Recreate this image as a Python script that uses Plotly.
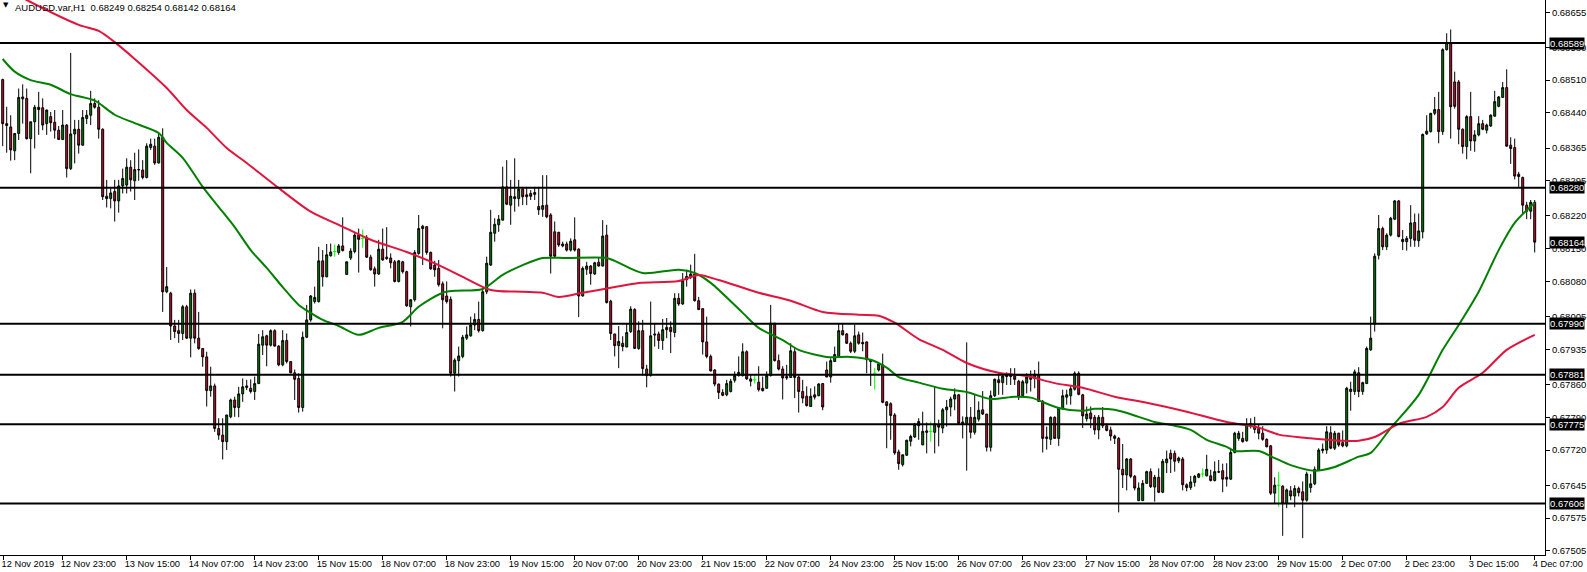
import plotly.graph_objects as go

# ---------------- data (AUDUSD.var, H1) ----------------
opens = [
0.68511, 0.68417, 0.68410, 0.68359, 0.68396, 0.68474, 0.68471, 0.68385, 0.68421, 0.68452,
0.68451, 0.68417, 0.68432, 0.68420, 0.68403, 0.68383, 0.68414, 0.68321, 0.68395, 0.68405,
0.68371, 0.68428, 0.68435, 0.68460, 0.68452, 0.68405, 0.68262, 0.68257, 0.68272, 0.68252,
0.68284, 0.68286, 0.68324, 0.68295, 0.68318, 0.68318, 0.68302, 0.68366, 0.68369, 0.68333,
0.68388, 0.68058, 0.68055, 0.67985, 0.67975, 0.67969, 0.68026, 0.67959, 0.68055, 0.67959,
0.67937, 0.67919, 0.67847, 0.67857, 0.67766, 0.67752, 0.67738, 0.67791, 0.67827, 0.67811,
0.67840, 0.67857, 0.67852, 0.67845, 0.67862, 0.67944, 0.67964, 0.67944, 0.67975, 0.67942,
0.67902, 0.67954, 0.67909, 0.67885, 0.67873, 0.67811, 0.67961, 0.67998, 0.68037, 0.68037,
0.68124, 0.68090, 0.68135, 0.68144, 0.68142, 0.68156, 0.68095, 0.68130, 0.68144, 0.68179,
0.68172, 0.68174, 0.68132, 0.68107, 0.68096, 0.68149, 0.68132, 0.68130, 0.68122, 0.68080,
0.68122, 0.68101, 0.68026, 0.68041, 0.68140, 0.68198, 0.68197, 0.68142, 0.68115, 0.68108,
0.68075, 0.68049, 0.68042, 0.67884, 0.67911, 0.67920, 0.67959, 0.67964, 0.67987, 0.67999,
0.67975, 0.68058, 0.68115, 0.68183, 0.68201, 0.68211, 0.68282, 0.68243, 0.68261, 0.68257,
0.68277, 0.68265, 0.68268, 0.68266, 0.68240, 0.68234, 0.68243, 0.68222, 0.68186, 0.68185,
0.68160, 0.68160, 0.68147, 0.68169, 0.68149, 0.68049, 0.68106, 0.68113, 0.68096, 0.68121,
0.68113, 0.68179, 0.68038, 0.67968, 0.67943, 0.67948, 0.67940, 0.67973, 0.68020, 0.67937,
0.67975, 0.67893, 0.67879, 0.67968, 0.67968, 0.67954, 0.67977, 0.67982, 0.67971, 0.68044,
0.68032, 0.68084, 0.68089, 0.68096, 0.68039, 0.68022, 0.67951, 0.67920, 0.67891, 0.67861,
0.67843, 0.67838, 0.67845, 0.67869, 0.67879, 0.67879, 0.67930, 0.67872, 0.67870, 0.67865,
0.67852, 0.67852, 0.67879, 0.67991, 0.67911, 0.67893, 0.67877, 0.67875, 0.67930, 0.67876,
0.67845, 0.67835, 0.67813, 0.67838, 0.67836, 0.67862, 0.67891, 0.67876, 0.67909, 0.67920,
0.67975, 0.67968, 0.67948, 0.67931, 0.67966, 0.67950, 0.67951, 0.67913, 0.67884, 0.67891,
0.67902, 0.67823, 0.67819, 0.67795, 0.67716, 0.67689, 0.67709, 0.67739, 0.67748, 0.67772,
0.67731, 0.67761, 0.67760, 0.67758, 0.67774, 0.67767, 0.67806, 0.67812, 0.67829, 0.67838,
0.67780, 0.67777, 0.67790, 0.67758, 0.67786, 0.67806, 0.67797, 0.67726, 0.67836, 0.67870,
0.67864, 0.67881, 0.67881, 0.67878, 0.67867, 0.67836, 0.67863, 0.67878, 0.67873, 0.67881,
0.67824, 0.67748, 0.67743, 0.67790, 0.67745, 0.67808, 0.67833, 0.67836, 0.67850, 0.67884,
0.67838, 0.67787, 0.67799, 0.67790, 0.67763, 0.67790, 0.67772, 0.67763, 0.67750, 0.67745,
0.67679, 0.67667, 0.67701, 0.67664, 0.67612, 0.67612, 0.67649, 0.67674, 0.67641, 0.67662,
0.67630, 0.67693, 0.67713, 0.67713, 0.67697, 0.67701, 0.67646, 0.67640, 0.67651, 0.67662,
0.67669, 0.67665, 0.67665, 0.67655, 0.67674, 0.67676, 0.67662, 0.67658, 0.67715, 0.67745,
0.67745, 0.67740, 0.67771, 0.67764, 0.67766, 0.67756, 0.67743, 0.67729, 0.67628, 0.67645,
0.67643, 0.67606, 0.67633, 0.67622, 0.67638, 0.67631, 0.67613, 0.67640, 0.67648, 0.67677,
0.67719, 0.67720, 0.67757, 0.67724, 0.67756, 0.67736, 0.67729, 0.67845, 0.67845, 0.67885,
0.67845, 0.67862, 0.67934, 0.67989, 0.68136, 0.68193, 0.68154, 0.68179, 0.68213, 0.68252,
0.68170, 0.68165, 0.68172, 0.68206, 0.68167, 0.68186, 0.68395, 0.68400, 0.68439, 0.68447,
0.68400, 0.68575, 0.68590, 0.68506, 0.68506, 0.68405, 0.68368, 0.68432, 0.68380, 0.68393,
0.68417, 0.68403, 0.68412, 0.68433, 0.68454, 0.68473, 0.68494, 0.68371, 0.68366, 0.68309,
0.68302, 0.68243, 0.68230, 0.68249,
]

highs = [
0.68513, 0.68453, 0.68435, 0.68397, 0.68492, 0.68501, 0.68492, 0.68421, 0.68457, 0.68485,
0.68471, 0.68447, 0.68442, 0.68446, 0.68412, 0.68446, 0.68416, 0.68568, 0.68425, 0.68425,
0.68446, 0.68446, 0.68487, 0.68471, 0.68467, 0.68407, 0.68297, 0.68279, 0.68297, 0.68297,
0.68321, 0.68343, 0.68339, 0.68355, 0.68362, 0.68339, 0.68375, 0.68385, 0.68385, 0.68396,
0.68407, 0.68111, 0.68058, 0.67998, 0.67998, 0.68030, 0.68030, 0.68063, 0.68063, 0.68015,
0.67937, 0.67930, 0.67898, 0.67862, 0.67788, 0.67788, 0.67795, 0.67830, 0.67834, 0.67855,
0.67873, 0.67870, 0.67871, 0.67877, 0.67968, 0.67976, 0.67966, 0.67978, 0.67978, 0.67944,
0.67976, 0.67969, 0.67909, 0.67892, 0.67884, 0.67973, 0.68030, 0.68051, 0.68069, 0.68154,
0.68147, 0.68160, 0.68161, 0.68159, 0.68160, 0.68217, 0.68122, 0.68151, 0.68183, 0.68193,
0.68191, 0.68179, 0.68137, 0.68112, 0.68169, 0.68193, 0.68196, 0.68140, 0.68126, 0.68126,
0.68124, 0.68103, 0.68042, 0.68147, 0.68222, 0.68201, 0.68198, 0.68144, 0.68124, 0.68126,
0.68080, 0.68080, 0.68048, 0.67916, 0.67941, 0.67966, 0.67984, 0.68005, 0.68012, 0.68037,
0.68062, 0.68133, 0.68233, 0.68215, 0.68222, 0.68325, 0.68339, 0.68297, 0.68343, 0.68297,
0.68282, 0.68282, 0.68275, 0.68282, 0.68282, 0.68307, 0.68307, 0.68226, 0.68208, 0.68186,
0.68165, 0.68165, 0.68172, 0.68217, 0.68151, 0.68112, 0.68122, 0.68115, 0.68122, 0.68130,
0.68211, 0.68201, 0.68041, 0.67968, 0.67985, 0.67963, 0.67991, 0.68027, 0.68023, 0.67995,
0.67998, 0.67902, 0.68037, 0.67991, 0.67973, 0.68000, 0.68002, 0.67995, 0.68055, 0.68055,
0.68098, 0.68105, 0.68116, 0.68139, 0.68047, 0.68023, 0.68005, 0.67924, 0.67893, 0.67862,
0.67850, 0.67870, 0.67872, 0.67888, 0.67920, 0.67948, 0.67933, 0.67881, 0.67881, 0.67899,
0.67877, 0.67888, 0.68030, 0.67991, 0.67924, 0.67899, 0.67902, 0.67948, 0.67940, 0.67881,
0.67870, 0.67856, 0.67852, 0.67856, 0.67863, 0.67863, 0.67909, 0.67916, 0.67941, 0.67990,
0.67990, 0.67970, 0.67952, 0.67988, 0.67973, 0.67971, 0.67952, 0.67913, 0.67895, 0.67906,
0.67926, 0.67824, 0.67822, 0.67799, 0.67721, 0.67710, 0.67742, 0.67753, 0.67778, 0.67788,
0.67802, 0.67779, 0.67781, 0.67856, 0.67785, 0.67810, 0.67827, 0.67834, 0.67852, 0.67840,
0.67792, 0.67950, 0.67812, 0.67838, 0.67824, 0.67846, 0.67797, 0.67847, 0.67873, 0.67884,
0.67884, 0.67886, 0.67895, 0.67895, 0.67870, 0.67870, 0.67884, 0.67890, 0.67891, 0.67909,
0.67827, 0.67770, 0.67792, 0.67792, 0.67812, 0.67849, 0.67849, 0.67859, 0.67888, 0.67888,
0.67840, 0.67813, 0.67813, 0.67795, 0.67795, 0.67812, 0.67777, 0.67770, 0.67753, 0.67748,
0.67733, 0.67703, 0.67703, 0.67667, 0.67651, 0.67656, 0.67676, 0.67681, 0.67667, 0.67681,
0.67701, 0.67719, 0.67721, 0.67719, 0.67706, 0.67705, 0.67649, 0.67665, 0.67667, 0.67671,
0.67681, 0.67710, 0.67678, 0.67696, 0.67699, 0.67691, 0.67692, 0.67720, 0.67759, 0.67761,
0.67759, 0.67788, 0.67788, 0.67791, 0.67774, 0.67771, 0.67745, 0.67731, 0.67662, 0.67674,
0.67645, 0.67638, 0.67643, 0.67645, 0.67642, 0.67653, 0.67674, 0.67669, 0.67685, 0.67724,
0.67734, 0.67771, 0.67771, 0.67761, 0.67757, 0.67762, 0.67855, 0.67866, 0.67892, 0.67897,
0.67866, 0.67941, 0.68005, 0.68140, 0.68222, 0.68197, 0.68183, 0.68218, 0.68254, 0.68254,
0.68190, 0.68177, 0.68243, 0.68225, 0.68225, 0.68396, 0.68435, 0.68440, 0.68474, 0.68485,
0.68578, 0.68610, 0.68618, 0.68528, 0.68510, 0.68407, 0.68435, 0.68485, 0.68403, 0.68433,
0.68425, 0.68417, 0.68437, 0.68487, 0.68476, 0.68506, 0.68533, 0.68388, 0.68385, 0.68314,
0.68304, 0.68250, 0.68254, 0.68254,
]

lows = [
0.68369, 0.68355, 0.68338, 0.68339, 0.68382, 0.68417, 0.68383, 0.68311, 0.68364, 0.68393,
0.68403, 0.68393, 0.68400, 0.68385, 0.68383, 0.68382, 0.68302, 0.68318, 0.68332, 0.68353,
0.68370, 0.68416, 0.68414, 0.68449, 0.68385, 0.68254, 0.68238, 0.68236, 0.68208, 0.68227,
0.68268, 0.68268, 0.68272, 0.68254, 0.68295, 0.68298, 0.68300, 0.68361, 0.68329, 0.68332,
0.68015, 0.68055, 0.67955, 0.67959, 0.67949, 0.67955, 0.67957, 0.67918, 0.67948, 0.67934,
0.67898, 0.67813, 0.67834, 0.67759, 0.67742, 0.67700, 0.67720, 0.67788, 0.67791, 0.67790,
0.67823, 0.67848, 0.67841, 0.67827, 0.67861, 0.67923, 0.67899, 0.67941, 0.67941, 0.67899,
0.67899, 0.67905, 0.67884, 0.67827, 0.67800, 0.67802, 0.67959, 0.67994, 0.68033, 0.68035,
0.68069, 0.68089, 0.68133, 0.68133, 0.68137, 0.68144, 0.68095, 0.68126, 0.68140, 0.68099,
0.68152, 0.68130, 0.68103, 0.68069, 0.68094, 0.68124, 0.68126, 0.68108, 0.68078, 0.68078,
0.68097, 0.68026, 0.67984, 0.68037, 0.68137, 0.68115, 0.68137, 0.68105, 0.68090, 0.68069,
0.67980, 0.68033, 0.67877, 0.67845, 0.67877, 0.67916, 0.67955, 0.67962, 0.67976, 0.67971,
0.67973, 0.68053, 0.68113, 0.68165, 0.68186, 0.68210, 0.68243, 0.68201, 0.68229, 0.68240,
0.68243, 0.68243, 0.68254, 0.68254, 0.68222, 0.68218, 0.68215, 0.68097, 0.68132, 0.68154,
0.68153, 0.68144, 0.68144, 0.68144, 0.68004, 0.68048, 0.68094, 0.68073, 0.68094, 0.68112,
0.68112, 0.68033, 0.67955, 0.67920, 0.67895, 0.67931, 0.67940, 0.67970, 0.67937, 0.67934,
0.67879, 0.67854, 0.67877, 0.67941, 0.67936, 0.67934, 0.67959, 0.67927, 0.67961, 0.68028,
0.68030, 0.68069, 0.68085, 0.68037, 0.68020, 0.67924, 0.67916, 0.67888, 0.67856, 0.67829,
0.67835, 0.67835, 0.67843, 0.67864, 0.67877, 0.67877, 0.67870, 0.67856, 0.67862, 0.67845,
0.67845, 0.67851, 0.67877, 0.67909, 0.67890, 0.67828, 0.67870, 0.67874, 0.67831, 0.67800,
0.67820, 0.67813, 0.67812, 0.67828, 0.67835, 0.67805, 0.67876, 0.67864, 0.67909, 0.67919,
0.67965, 0.67947, 0.67927, 0.67927, 0.67945, 0.67931, 0.67884, 0.67857, 0.67849, 0.67888,
0.67820, 0.67724, 0.67742, 0.67710, 0.67678, 0.67685, 0.67708, 0.67728, 0.67746, 0.67742,
0.67731, 0.67713, 0.67738, 0.67713, 0.67728, 0.67756, 0.67770, 0.67792, 0.67805, 0.67777,
0.67745, 0.67676, 0.67745, 0.67753, 0.67781, 0.67795, 0.67717, 0.67717, 0.67833, 0.67838,
0.67838, 0.67859, 0.67859, 0.67859, 0.67827, 0.67833, 0.67841, 0.67845, 0.67852, 0.67824,
0.67715, 0.67721, 0.67731, 0.67745, 0.67729, 0.67806, 0.67817, 0.67817, 0.67847, 0.67837,
0.67767, 0.67781, 0.67767, 0.67753, 0.67743, 0.67767, 0.67760, 0.67740, 0.67733, 0.67587,
0.67639, 0.67634, 0.67660, 0.67634, 0.67612, 0.67612, 0.67648, 0.67639, 0.67610, 0.67628,
0.67628, 0.67671, 0.67671, 0.67674, 0.67692, 0.67634, 0.67632, 0.67635, 0.67642, 0.67660,
0.67662, 0.67664, 0.67653, 0.67653, 0.67671, 0.67630, 0.67642, 0.67656, 0.67713, 0.67740,
0.67736, 0.67738, 0.67766, 0.67756, 0.67743, 0.67740, 0.67726, 0.67624, 0.67606, 0.67599,
0.67537, 0.67596, 0.67613, 0.67598, 0.67621, 0.67532, 0.67610, 0.67629, 0.67645, 0.67676,
0.67713, 0.67712, 0.67722, 0.67720, 0.67727, 0.67726, 0.67726, 0.67804, 0.67838, 0.67833,
0.67838, 0.67861, 0.67932, 0.67973, 0.68127, 0.68147, 0.68147, 0.68176, 0.68211, 0.68174,
0.68147, 0.68146, 0.68154, 0.68154, 0.68154, 0.68172, 0.68393, 0.68398, 0.68435, 0.68375,
0.68393, 0.68573, 0.68385, 0.68449, 0.68373, 0.68353, 0.68341, 0.68359, 0.68357, 0.68390,
0.68403, 0.68396, 0.68410, 0.68432, 0.68452, 0.68472, 0.68368, 0.68331, 0.68298, 0.68282,
0.68224, 0.68213, 0.68213, 0.68142,
]

closes = [
0.68417, 0.68413, 0.68361, 0.68396, 0.68473, 0.68470, 0.68385, 0.68421, 0.68452, 0.68447,
0.68414, 0.68446, 0.68419, 0.68403, 0.68383, 0.68414, 0.68321, 0.68395, 0.68405, 0.68371,
0.68430, 0.68435, 0.68460, 0.68452, 0.68405, 0.68261, 0.68257, 0.68269, 0.68252, 0.68284,
0.68300, 0.68324, 0.68297, 0.68319, 0.68319, 0.68302, 0.68369, 0.68373, 0.68333, 0.68388,
0.68058, 0.68069, 0.67985, 0.67973, 0.67969, 0.68026, 0.67959, 0.68055, 0.67959, 0.67937,
0.67919, 0.67847, 0.67857, 0.67766, 0.67752, 0.67738, 0.67795, 0.67827, 0.67811, 0.67840,
0.67855, 0.67854, 0.67845, 0.67862, 0.67946, 0.67962, 0.67944, 0.67975, 0.67942, 0.67902,
0.67954, 0.67909, 0.67885, 0.67871, 0.67811, 0.67961, 0.67998, 0.68049, 0.68046, 0.68124,
0.68090, 0.68137, 0.68143, 0.68144, 0.68156, 0.68146, 0.68122, 0.68145, 0.68179, 0.68170,
0.68172, 0.68132, 0.68105, 0.68096, 0.68149, 0.68126, 0.68129, 0.68120, 0.68080, 0.68124,
0.68101, 0.68028, 0.68041, 0.68142, 0.68193, 0.68193, 0.68142, 0.68107, 0.68105, 0.68073,
0.68041, 0.68037, 0.67884, 0.67912, 0.67921, 0.67961, 0.67966, 0.67987, 0.67999, 0.67975,
0.68058, 0.68119, 0.68185, 0.68202, 0.68213, 0.68282, 0.68245, 0.68262, 0.68257, 0.68277,
0.68261, 0.68261, 0.68262, 0.68270, 0.68233, 0.68242, 0.68218, 0.68134, 0.68134, 0.68158,
0.68156, 0.68147, 0.68166, 0.68147, 0.68049, 0.68108, 0.68113, 0.68097, 0.68120, 0.68113,
0.68177, 0.68035, 0.67969, 0.67943, 0.67952, 0.67941, 0.67971, 0.68021, 0.67937, 0.67975,
0.67894, 0.67879, 0.67964, 0.67966, 0.67954, 0.67977, 0.67982, 0.67973, 0.68044, 0.68032,
0.68082, 0.68091, 0.68096, 0.68039, 0.68020, 0.67951, 0.67920, 0.67889, 0.67861, 0.67843,
0.67837, 0.67862, 0.67867, 0.67879, 0.67886, 0.67930, 0.67872, 0.67867, 0.67870, 0.67849,
0.67847, 0.67879, 0.67991, 0.67911, 0.67893, 0.67874, 0.67874, 0.67932, 0.67875, 0.67845,
0.67831, 0.67815, 0.67835, 0.67833, 0.67861, 0.67812, 0.67876, 0.67911, 0.67924, 0.67975,
0.67966, 0.67948, 0.67931, 0.67964, 0.67948, 0.67947, 0.67913, 0.67909, 0.67884, 0.67904,
0.67822, 0.67815, 0.67794, 0.67714, 0.67691, 0.67710, 0.67741, 0.67749, 0.67775, 0.67781,
0.67760, 0.67758, 0.67760, 0.67776, 0.67769, 0.67806, 0.67812, 0.67829, 0.67838, 0.67777,
0.67777, 0.67790, 0.67758, 0.67790, 0.67805, 0.67797, 0.67726, 0.67836, 0.67871, 0.67864,
0.67878, 0.67877, 0.67877, 0.67871, 0.67834, 0.67866, 0.67876, 0.67871, 0.67882, 0.67824,
0.67745, 0.67745, 0.67790, 0.67745, 0.67810, 0.67836, 0.67838, 0.67851, 0.67884, 0.67839,
0.67793, 0.67797, 0.67787, 0.67763, 0.67790, 0.67772, 0.67762, 0.67750, 0.67745, 0.67679,
0.67667, 0.67701, 0.67664, 0.67639, 0.67639, 0.67649, 0.67674, 0.67642, 0.67662, 0.67630,
0.67696, 0.67701, 0.67701, 0.67696, 0.67703, 0.67646, 0.67640, 0.67652, 0.67664, 0.67669,
0.67669, 0.67679, 0.67655, 0.67674, 0.67673, 0.67658, 0.67658, 0.67715, 0.67756, 0.67756,
0.67738, 0.67774, 0.67777, 0.67771, 0.67756, 0.67743, 0.67727, 0.67628, 0.67645, 0.67645,
0.67606, 0.67635, 0.67622, 0.67638, 0.67629, 0.67613, 0.67669, 0.67648, 0.67679, 0.67720,
0.67722, 0.67759, 0.67724, 0.67756, 0.67731, 0.67729, 0.67852, 0.67850, 0.67887, 0.67845,
0.67864, 0.67937, 0.67959, 0.68134, 0.68193, 0.68154, 0.68179, 0.68215, 0.68252, 0.68176,
0.68165, 0.68172, 0.68205, 0.68168, 0.68188, 0.68394, 0.68401, 0.68439, 0.68447, 0.68400,
0.68575, 0.68590, 0.68453, 0.68454, 0.68405, 0.68368, 0.68432, 0.68380, 0.68393, 0.68417,
0.68405, 0.68414, 0.68435, 0.68464, 0.68474, 0.68494, 0.68369, 0.68364, 0.68305, 0.68304,
0.68243, 0.68230, 0.68249, 0.68164,
]

# moving averages (bar index, price)
green_ma_bar = [0, 3, 7, 12, 17, 23, 28, 33, 39, 41, 45, 50, 54, 58, 62, 66, 70, 74, 77, 80,
                84, 89, 94, 100, 104, 110, 113, 120, 125, 130, 135, 141, 151, 153, 160, 169, 173, 177, 185, 189,
                195, 199, 206, 212, 217, 221, 224, 229, 235, 241, 247, 253, 257, 264, 270, 273, 278, 284, 288, 293,
                297, 301, 306, 308, 314, 318, 322, 328, 333, 339, 342, 347, 354, 360, 364, 369, 374, 378, 383]
green_ma_val = [0.68555, 0.68528, 0.68510, 0.68500, 0.68480, 0.68466, 0.68436, 0.68418, 0.68397, 0.68376,
                0.68344, 0.68282, 0.68239, 0.68196, 0.68147, 0.68109, 0.68068, 0.68030, 0.68013, 0.67998,
                0.67985, 0.67966, 0.67981, 0.67994, 0.68026, 0.68056, 0.68060, 0.68064, 0.68094, 0.68115,
                0.68130, 0.68130, 0.68130, 0.68124, 0.68098, 0.68105, 0.68098, 0.68077, 0.68013, 0.67981,
                0.67955, 0.67934, 0.67919, 0.67919, 0.67913, 0.67896, 0.67876, 0.67864, 0.67851, 0.67844,
                0.67829, 0.67834, 0.67832, 0.67810, 0.67804, 0.67808, 0.67806, 0.67791, 0.67780, 0.67772,
                0.67763, 0.67742, 0.67727, 0.67718, 0.67718, 0.67703, 0.67688, 0.67676, 0.67684, 0.67706,
                0.67714, 0.67767, 0.67838, 0.67934, 0.67987, 0.68058, 0.68147, 0.68205, 0.68248]

red_ma_bar = [0, 6, 19, 24, 28, 33, 41, 46, 51, 56, 61, 68, 77, 84, 92, 101, 109, 115, 122, 130,
              135, 139, 145, 153, 159, 169, 174, 179, 189, 197, 205, 214, 219, 223, 229, 235, 241, 249, 256, 263,
              270, 278, 286, 295, 306, 314, 319, 326, 335, 339, 343, 349, 356, 360, 364, 370, 376, 383]
red_ma_val = [0.68709, 0.68681, 0.68628, 0.68615, 0.68591, 0.68555, 0.68493, 0.68446, 0.68408, 0.68365,
              0.68333, 0.68286, 0.68229, 0.68201, 0.68169, 0.68143, 0.68115, 0.68090, 0.68062, 0.68058,
              0.68056, 0.68047, 0.68056, 0.68068, 0.68077, 0.68081, 0.68094, 0.68083, 0.68056, 0.68039,
              0.68015, 0.68009, 0.68007, 0.67992, 0.67957, 0.67934, 0.67906, 0.67885, 0.67878, 0.67863,
              0.67853, 0.67834, 0.67821, 0.67804, 0.67780, 0.67768, 0.67753, 0.67746, 0.67740, 0.67740,
              0.67748, 0.67776, 0.67791, 0.67812, 0.67853, 0.67885, 0.67934, 0.67966]

level_prices = [0.68589, 0.68280, 0.67990, 0.67881, 0.67775, 0.67606]

price_ticks = [0.68655, 0.68580, 0.68510, 0.68440, 0.68365, 0.68295, 0.68220, 0.68150, 0.68080,
               0.68005, 0.67935, 0.67860, 0.67790, 0.67720, 0.67645, 0.67575, 0.67505]

time_tick_bars = [0.2, 15, 31, 47, 63, 79, 95, 111, 127, 143, 159, 175, 191, 207, 223, 239, 255,
                  271, 287, 303, 319, 335, 351, 367, 383]
time_tick_labels = ["12 Nov 2019", "12 Nov 23:00", "13 Nov 15:00", "14 Nov 07:00", "14 Nov 23:00",
                    "15 Nov 15:00", "18 Nov 07:00", "18 Nov 23:00", "19 Nov 15:00", "20 Nov 07:00",
                    "20 Nov 23:00", "21 Nov 15:00", "22 Nov 07:00", "24 Nov 23:00", "25 Nov 15:00",
                    "26 Nov 07:00", "26 Nov 23:00", "27 Nov 15:00", "28 Nov 07:00", "28 Nov 23:00",
                    "29 Nov 15:00", "2 Dec 07:00", "2 Dec 23:00", "3 Dec 15:00", "4 Dec 07:00"]

symbol_name = "AUDUSD.var,H1"

# ---------------- figure ----------------
FONT = "Liberation Sans, Arial, sans-serif"
FS = 9.5
bars = list(range(len(opens)))
is_doji = [o == c for o, c in zip(opens, closes)]
cidx = [i for i in bars if not is_doji[i]]
didx = [i for i in bars if is_doji[i]]

fig = go.Figure()
fig.add_trace(go.Candlestick(
    x=cidx,
    open=[opens[i] for i in cidx], high=[highs[i] for i in cidx],
    low=[lows[i] for i in cidx], close=[closes[i] for i in cidx],
    increasing=dict(line=dict(color="black", width=1), fillcolor="#008000"),
    decreasing=dict(line=dict(color="black", width=1), fillcolor="#c8102e"),
    whiskerwidth=0, hoverinfo="skip", showlegend=False,
))

# doji bars (open == close) drawn as lime crosses
dx, dy = [], []
for i in didx:
    dx += [i, i, None, i - 0.45, i + 0.45, None]
    dy += [lows[i], highs[i], None, opens[i], opens[i], None]
fig.add_trace(go.Scatter(x=dx, y=dy, mode="lines", line=dict(color="#00ff00", width=1),
                         hoverinfo="skip", showlegend=False))

fig.add_trace(go.Scatter(x=green_ma_bar, y=green_ma_val, mode="lines",
                         line=dict(color="#008000", width=2, shape="spline", smoothing=0.8),
                         hoverinfo="skip", showlegend=False))
fig.add_trace(go.Scatter(x=red_ma_bar, y=red_ma_val, mode="lines",
                         line=dict(color="#e0143c", width=2, shape="spline", smoothing=0.8),
                         hoverinfo="skip", showlegend=False))

for lv in level_prices:
    fig.add_shape(type="line", xref="paper", x0=0, x1=1, yref="y", y0=lv, y1=lv,
                  line=dict(color="black", width=2), layer="above")

annotations = []
for lv in level_prices + [closes[-1]]:
    annotations.append(dict(x=1, xref="paper", xanchor="left", xshift=4, y=lv, yref="y",
                            yanchor="middle", text=f"{lv:.5f}", showarrow=False,
                            font=dict(family=FONT, size=FS, color="white"),
                            bgcolor="black", borderpad=0))

title_text = (f"{symbol_name}\u00a0 {opens[-1]:.5f} {highs[-1]:.5f} "
              f"{lows[-1]:.5f} {closes[-1]:.5f}")
annotations.append(dict(x=0, xref="paper", xanchor="left", xshift=13, y=1, yref="paper",
                        yanchor="top", yshift=0, text=title_text, showarrow=False,
                        font=dict(family=FONT, size=FS, color="black")))
annotations.append(dict(x=0, xref="paper", xanchor="left", xshift=1, y=1, yref="paper",
                        yanchor="top", yshift=1, text="\u25bc", showarrow=False,
                        font=dict(family="DejaVu Sans", size=7, color="black")))

fig.update_layout(
    width=1587, height=572,
    margin=dict(l=0, r=42, t=0, b=17, autoexpand=False),
    paper_bgcolor="white", plot_bgcolor="white",
    showlegend=False, hovermode=False,
    annotations=annotations,
    xaxis=dict(range=[-0.675, 385.575], rangeslider=dict(visible=False),
               showgrid=False, zeroline=False, showline=True, linecolor="black", linewidth=1,
               ticks="outside", ticklen=4, tickcolor="black", tickwidth=1,
               tickvals=time_tick_bars, ticktext=time_tick_labels,
               ticklabelposition="outside right", tickangle=0, ticklabelshift=-3,
               tickfont=dict(family=FONT, size=9.3, color="black"), automargin=False),
    yaxis=dict(side="right", range=[0.67496, 0.68681],
               showgrid=False, zeroline=False, showline=True, linecolor="black", linewidth=1,
               ticks="outside", ticklen=4, tickcolor="black", tickwidth=1,
               tickvals=price_ticks, ticktext=[f"{v:.5f}" for v in price_ticks],
               tickfont=dict(family=FONT, size=FS, color="black"), automargin=False),
)

fig.write_html("out.html", config={"displayModeBar": False},
               post_script="document.body.style.margin='0';document.body.style.overflow='hidden';")
